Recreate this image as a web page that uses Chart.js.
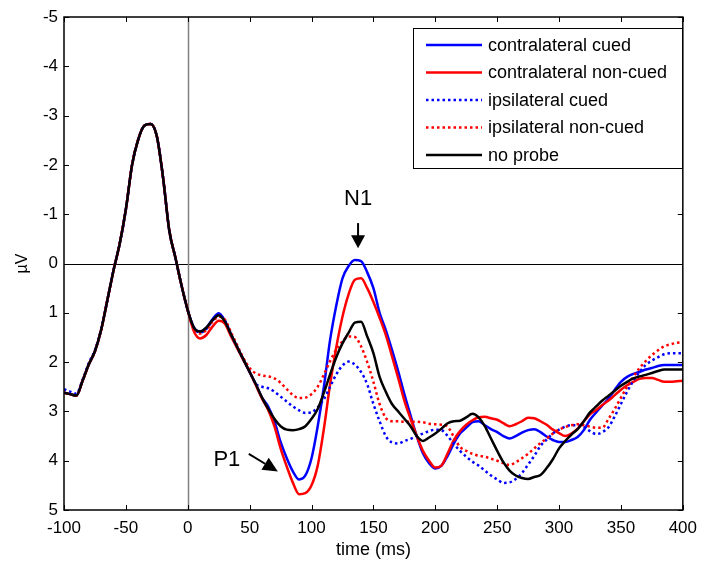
<!DOCTYPE html>
<html>
<head>
<meta charset="utf-8">
<script src="https://cdn.jsdelivr.net/npm/chart.js@4.4.1/dist/chart.umd.min.js"></script>
<style>
html,body{margin:0;padding:0;background:#fff;}
#wrap{width:705px;height:562px;position:relative;}
</style>
</head>
<body>
<div id="wrap"><canvas id="c" width="705" height="562"></canvas></div>
<script>
const times = [-100,-95,-90,-85,-80,-75,-70,-65,-60,-55,-50,-45,-40,-35,-30,-25,-20,-15,-10,-5,0,5,10,15,20,25,30,35,40,45,
50,55,60,65,70,75,80,85,90,95,100,105,110,115,120,125,130,135,140,145,150,155,160,165,170,175,180,185,190,195,
200,205,210,215,220,225,230,235,240,245,250,255,260,265,270,275,280,285,290,295,300,305,310,315,320,325,330,335,340,345,
350,355,360,365,370,375,380,385,390,395,400];

const contraCued = [2.62,2.65,2.68,2.38,2.05,1.78,1.35,0.75,0.14,-0.40,-1.10,-2.00,-2.52,-2.80,-2.83,-2.58,-1.75,-0.68,-0.12,0.45,0.95,1.30,1.38,1.30,1.13,1.01,1.16,1.44,1.70,1.95,
2.2,2.45,2.72,2.9,3.2,3.62,3.95,4.22,4.38,4.3,3.95,3.3,2.5,1.55,0.85,0.3,0.05,-0.07,-0.05,0.18,
0.5,1.0,1.35,1.75,2.18,2.65,3.08,3.5,3.85,4.05,4.16,4.1,3.9,3.65,3.45,3.33,3.22,3.2,3.28,3.36,
3.42,3.5,3.55,3.5,3.43,3.38,3.36,3.42,3.51,3.58,3.62,3.62,3.58,3.52,3.38,3.17,3.02,2.88,2.74,2.56,
2.4,2.3,2.24,2.2,2.15,2.12,2.08,2.06,2.06,2.06,2.06];

const contraNonCued = [2.62,2.65,2.68,2.38,2.05,1.78,1.35,0.75,0.14,-0.40,-1.10,-2.00,-2.52,-2.80,-2.83,-2.58,-1.75,-0.68,-0.12,0.45,0.95,1.38,1.52,1.45,1.28,1.16,1.22,1.48,1.72,1.96,
2.2,2.47,2.74,2.97,3.3,3.75,4.12,4.45,4.68,4.66,4.5,4.1,3.35,2.45,1.7,1.08,0.62,0.33,0.3,0.5,
0.78,1.1,1.45,1.88,2.32,2.78,3.15,3.5,3.8,4.0,4.14,4.1,3.85,3.58,3.4,3.27,3.18,3.12,3.11,3.14,
3.17,3.24,3.3,3.26,3.2,3.13,3.14,3.2,3.27,3.37,3.44,3.5,3.45,3.35,3.2,3.06,2.97,2.87,2.78,2.67,
2.56,2.47,2.4,2.34,2.32,2.32,2.36,2.4,2.4,2.39,2.38];

const ipsiCued = [2.55,2.6,2.64,2.36,2.02,1.76,1.33,0.74,0.13,-0.40,-1.10,-2.00,-2.52,-2.80,-2.83,-2.58,-1.75,-0.68,-0.12,0.45,0.95,1.30,1.40,1.33,1.16,1.05,1.16,1.44,1.70,1.95,
2.2,2.44,2.5,2.53,2.6,2.7,2.8,2.9,2.98,3.03,3.02,2.92,2.75,2.5,2.25,2.07,1.99,2.05,2.2,2.45,
2.85,3.2,3.5,3.63,3.65,3.6,3.56,3.5,3.45,3.4,3.37,3.38,3.5,3.66,3.8,3.92,4.02,4.1,4.2,4.3,
4.38,4.45,4.44,4.37,4.25,4.08,3.9,3.7,3.57,3.45,3.37,3.31,3.28,3.28,3.32,3.4,3.46,3.42,3.32,3.1,
2.85,2.6,2.38,2.2,2.06,1.97,1.9,1.84,1.82,1.82,1.82];

const ipsiNonCued = [2.62,2.65,2.68,2.38,2.05,1.78,1.35,0.75,0.14,-0.40,-1.10,-2.00,-2.52,-2.80,-2.83,-2.58,-1.75,-0.68,-0.12,0.45,0.95,1.32,1.42,1.35,1.18,1.08,1.14,1.40,1.66,1.92,
2.12,2.23,2.27,2.29,2.33,2.42,2.55,2.67,2.73,2.72,2.65,2.5,2.25,1.98,1.75,1.58,1.48,1.49,1.68,2.0,
2.4,2.85,3.13,3.2,3.2,3.21,3.21,3.21,3.22,3.25,3.26,3.27,3.31,3.52,3.72,3.8,3.86,3.9,3.92,3.96,
4.0,4.05,4.09,4.03,3.95,3.86,3.75,3.64,3.55,3.45,3.37,3.32,3.28,3.26,3.28,3.31,3.33,3.33,3.15,2.95,
2.72,2.5,2.3,2.12,1.98,1.86,1.76,1.68,1.64,1.61,1.6];

const noProbe = [2.62,2.65,2.68,2.38,2.05,1.78,1.35,0.75,0.14,-0.40,-1.10,-2.00,-2.52,-2.80,-2.83,-2.58,-1.75,-0.68,-0.12,0.45,0.95,1.30,1.38,1.30,1.15,1.05,1.18,1.44,1.70,1.95,
2.2,2.45,2.72,2.95,3.15,3.3,3.37,3.38,3.36,3.3,3.15,2.95,2.62,2.25,1.9,1.62,1.4,1.2,1.18,1.48,
1.82,2.3,2.6,2.85,3.0,3.15,3.3,3.5,3.6,3.53,3.45,3.35,3.24,3.2,3.19,3.12,3.05,3.12,3.3,3.55,
3.8,4.03,4.2,4.3,4.35,4.37,4.33,4.29,4.15,3.97,3.75,3.6,3.47,3.36,3.2,3.02,2.9,2.78,2.68,2.58,
2.48,2.4,2.33,2.29,2.26,2.22,2.18,2.15,2.15,2.15,2.15];

const seriesLabels = ['contralateral cued','contralateral non-cued','ipsilateral cued','ipsilateral non-cued','no probe'];
const xTicks = [-100,-50,0,50,100,150,200,250,300,350,400];
const yTicks = [-5,-4,-3,-2,-1,0,1,2,3,4,5];

const FONT = '"Liberation Sans", Arial, sans-serif';

function pts(arr){ return times.map((t,i)=>({x:t,y:arr[i]})); }

const styles = [
  {color:'#0000ff', dash:[], order:5},
  {color:'#ff0000', dash:[], order:4},
  {color:'#0000ff', dash:[2.5,3], order:3},
  {color:'#ff0000', dash:[2.5,3], order:2},
  {color:'#000000', dash:[], order:1}
];
const seriesData = [contraCued, contraNonCued, ipsiCued, ipsiNonCued, noProbe];

const datasets = seriesData.map((arr,i)=>({
  label: seriesLabels[i],
  data: pts(arr),
  borderColor: styles[i].color,
  backgroundColor: styles[i].color,
  borderDash: styles[i].dash,
  borderWidth: 2.5,
  pointRadius: 0,
  tension: 0.4,
  cubicInterpolationMode: 'monotone',
  fill: false,
  order: styles[i].order
}));

const decor = {
  id: 'decor',
  beforeDatasetsDraw(chart){
    const {ctx, chartArea:a, scales:{x,y}} = chart;
    ctx.save();
    ctx.lineWidth = 1;
    ctx.strokeStyle = '#000';
    const y0 = Math.round(y.getPixelForValue(0)) + 0.5;
    ctx.beginPath(); ctx.moveTo(a.left, y0); ctx.lineTo(a.right, y0); ctx.stroke();
    ctx.strokeStyle = '#808080';
    ctx.lineWidth = 1.5;
    const x0 = Math.round(x.getPixelForValue(0)) + 0.5;
    ctx.beginPath(); ctx.moveTo(x0, a.top); ctx.lineTo(x0, a.bottom); ctx.stroke();
    ctx.restore();
  },
  afterDraw(chart){
    const {ctx, chartArea:a, scales:{x,y}} = chart;
    ctx.save();
    ctx.strokeStyle = '#000';
    ctx.lineWidth = 1.5;
    ctx.strokeRect(a.left, a.top, a.right - a.left, a.bottom - a.top);
    ctx.lineWidth = 1;
    const tl = 5;
    xTicks.forEach(v=>{
      const px = Math.round(x.getPixelForValue(v)) + 0.5;
      ctx.beginPath();
      ctx.moveTo(px, a.bottom); ctx.lineTo(px, a.bottom - tl);
      ctx.moveTo(px, a.top); ctx.lineTo(px, a.top + tl);
      ctx.stroke();
    });
    yTicks.forEach(v=>{
      const py = Math.round(y.getPixelForValue(v)) + 0.5;
      ctx.beginPath();
      ctx.moveTo(a.left, py); ctx.lineTo(a.left + tl, py);
      ctx.moveTo(a.right, py); ctx.lineTo(a.right - tl, py);
      ctx.stroke();
    });
    // legend
    const lx = 413, ly = 28, lw = 269, lh = 140;
    ctx.fillStyle = '#fff';
    ctx.fillRect(lx, ly, lw, lh);
    ctx.strokeStyle = '#000';
    ctx.lineWidth = 1;
    ctx.strokeRect(lx + 0.5, ly + 0.5, lw, lh);
    ctx.font = '18px ' + FONT;
    ctx.textBaseline = 'middle';
    ctx.textAlign = 'left';
    chart.data.datasets.forEach((ds,i)=>{
      const yy = 45 + i * 27.5;
      ctx.strokeStyle = ds.borderColor;
      ctx.lineWidth = 2.5;
      ctx.setLineDash(ds.borderDash);
      ctx.beginPath(); ctx.moveTo(426, yy); ctx.lineTo(482, yy); ctx.stroke();
      ctx.setLineDash([]);
      ctx.fillStyle = '#000';
      ctx.fillText(ds.label, 488, yy + 1);
    });
    // annotations
    ctx.fillStyle = '#000';
    ctx.strokeStyle = '#000';
    ctx.font = '22px ' + FONT;
    ctx.textAlign = 'center';
    ctx.textBaseline = 'middle';
    const nx = x.getPixelForValue(137.6);
    ctx.fillText('N1', nx, y.getPixelForValue(-1.3));
    const nTip = y.getPixelForValue(-0.31);
    ctx.lineWidth = 2;
    ctx.beginPath(); ctx.moveTo(nx, y.getPixelForValue(-0.82)); ctx.lineTo(nx, nTip - 10); ctx.stroke();
    ctx.beginPath(); ctx.moveTo(nx, nTip); ctx.lineTo(nx - 7, nTip - 13); ctx.lineTo(nx + 7, nTip - 13); ctx.closePath(); ctx.fill();
    ctx.fillText('P1', x.getPixelForValue(31.6), y.getPixelForValue(3.99));
    const tx = x.getPixelForValue(72.8), ty = y.getPixelForValue(4.22);
    const sx = x.getPixelForValue(49.3), sy = y.getPixelForValue(3.86);
    const ang = Math.atan2(ty - sy, tx - sx);
    const hl = 15, hw = 7;
    const bx = tx - hl * Math.cos(ang), by = ty - hl * Math.sin(ang);
    ctx.beginPath(); ctx.moveTo(sx, sy); ctx.lineTo(bx, by); ctx.stroke();
    ctx.beginPath();
    ctx.moveTo(tx, ty);
    ctx.lineTo(bx + hw * Math.sin(ang), by - hw * Math.cos(ang));
    ctx.lineTo(bx - hw * Math.sin(ang), by + hw * Math.cos(ang));
    ctx.closePath(); ctx.fill();
    ctx.restore();
  }
};

new Chart(document.getElementById('c'), {
  type: 'line',
  data: { datasets },
  options: {
    responsive: false,
    animation: false,
    events: [],
    layout: { padding: { top: 17, right: 18, left: 0, bottom: 0 } },
    plugins: { legend: { display: false }, tooltip: { enabled: false } },
    scales: {
      x: {
        type: 'linear', min: -100, max: 400,
        grid: { display: false, drawTicks: false },
        border: { display: false },
        ticks: { stepSize: 50, padding: 8, color: '#000', font: { family: FONT, size: 17 }, maxRotation: 0, autoSkip: false },
        title: { display: true, text: 'time (ms)', color: '#000', font: { family: FONT, size: 18 }, padding: { top: 0, bottom: 1 } },
        afterFit(s){ s.height = 52; }
      },
      y: {
        type: 'linear', min: -5, max: 5, reverse: true,
        grid: { display: false, drawTicks: false },
        border: { display: false },
        ticks: { stepSize: 1, padding: 6, color: '#000', font: { family: FONT, size: 17 } },
        title: { display: true, text: 'µV', color: '#000', font: { family: FONT, size: 16 }, padding: { top: 13, bottom: 0 } },
        afterFit(s){ s.width = 64; }
      }
    }
  },
  plugins: [decor]
});
</script>
</body>
</html>
